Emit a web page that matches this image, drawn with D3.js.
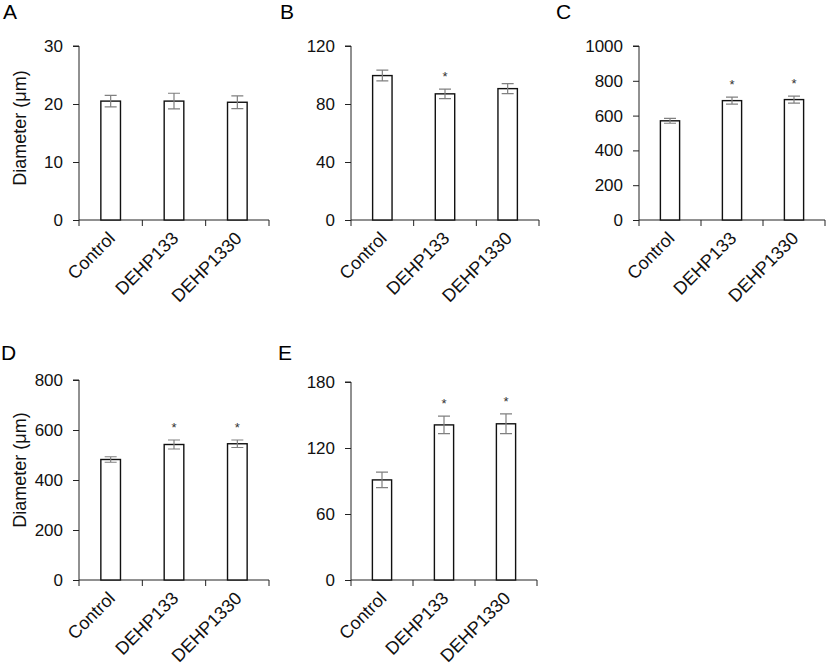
<!DOCTYPE html>
<html><head><meta charset="utf-8">
<script src="https://cdn.jsdelivr.net/npm/d3@7"></script>
<style>body{margin:0;background:#fff}svg{display:block;font-family:Arial,"Liberation Sans",sans-serif}</style>
</head><body><svg id="c" width="827" height="668"></svg>
<script>
const categories = ["Control", "DEHP133", "DEHP1330"];
const panelNames = ["A", "B", "C", "D", "E"];
const meansA = [20.5, 20.5, 20.3], errA = [1.0, 1.35, 1.1], sigA = [0, 0, 0], ticksA = [0, 10, 20, 30];
const meansB = [99.6, 87.0, 90.6], errB = [3.7, 3.3, 3.4], sigB = [0, 1, 0], ticksB = [0, 40, 80, 120];
const meansC = [570, 686, 692], errC = [14, 20, 20], sigC = [0, 1, 1], ticksC = [0, 200, 400, 600, 800, 1000];
const meansD = [482, 542, 545], errD = [11, 18, 15], sigD = [0, 1, 1], ticksD = [0, 200, 400, 600, 800];
const meansE = [91, 141, 142], errE = [7, 8, 9], sigE = [0, 1, 1], ticksE = [0, 60, 120, 180];
const yTitle = "Diameter (\u03bcm)";

const panels = [
  {name: "A", means: meansA, err: errA, sig: sigA, ticks: ticksA, l: 79, r: 269, t: 46, b: 220, lx: 3, ly: 19, title: 128},
  {name: "B", means: meansB, err: errB, sig: sigB, ticks: ticksB, l: 351, r: 539, t: 46, b: 220, lx: 280, ly: 19},
  {name: "C", means: meansC, err: errC, sig: sigC, ticks: ticksC, l: 639, r: 825, t: 46, b: 220, lx: 556, ly: 19},
  {name: "D", means: meansD, err: errD, sig: sigD, ticks: ticksD, l: 79, r: 269, t: 380, b: 580, lx: 1, ly: 360, title: 470},
  {name: "E", means: meansE, err: errE, sig: sigE, ticks: ticksE, l: 351, r: 537, t: 382, b: 580, lx: 278, ly: 360}
];

const svg = d3.select("#c");
panels.forEach(p => {
  const g = svg.append("g");
  const x = d3.scaleBand().domain(categories).range([p.l, p.r]).paddingInner(0).paddingOuter(0);
  const ymax = p.ticks[p.ticks.length - 1];
  const y = d3.scaleLinear().domain([0, ymax]).range([p.b, p.t]);

  g.append("text").attr("x", p.lx).attr("y", p.ly).attr("font-size", 21).attr("fill", "#000").text(p.name);

  // y axis
  const ya = g.append("g").attr("transform", `translate(${p.l},0)`)
    .call(d3.axisLeft(y).tickValues(p.ticks).tickSize(6).tickPadding(10).tickFormat(d3.format("d")));
  ya.select(".domain").attr("stroke", "#222").attr("d", `M-6,${p.t}H0V${p.b}`);
  ya.selectAll(".tick line").attr("stroke", "#222");
  ya.selectAll(".tick text").attr("font-size", 17).attr("fill", "#111").attr("font-family", "Arial, 'Liberation Sans', sans-serif");

  // x axis with boundary ticks
  g.append("line").attr("x1", p.l).attr("x2", p.r).attr("y1", p.b).attr("y2", p.b).attr("stroke", "#222");
  const bounds = categories.map(c => x(c)).concat([x(categories[categories.length - 1]) + x.bandwidth()]);
  g.selectAll(".xt").data(bounds).join("line")
    .attr("x1", d => d).attr("x2", d => d).attr("y1", p.b).attr("y2", p.b + 6).attr("stroke", "#222");

  const bw = x.bandwidth() * 0.31;
  const cx = c => x(c) + x.bandwidth() / 2;

  g.selectAll(".bar").data(categories).join("rect")
    .attr("x", c => cx(c) - bw / 2).attr("width", bw)
    .attr("y", (c, i) => y(p.means[i])).attr("height", (c, i) => p.b - y(p.means[i]))
    .attr("fill", "#fff").attr("stroke", "#111").attr("stroke-width", 1.4);

  const cap = 6;
  categories.forEach((c, i) => {
    const hi = y(p.means[i] + p.err[i]), lo = y(p.means[i] - p.err[i]);
    g.append("path").attr("d", `M${cx(c)},${hi}V${lo}M${cx(c) - cap},${hi}H${cx(c) + cap}M${cx(c) - cap},${lo}H${cx(c) + cap}`)
      .attr("stroke", "#808080").attr("stroke-width", 1.2).attr("fill", "none");
    if (p.sig[i]) {
      g.append("text").attr("x", cx(c)).attr("y", hi - 8).attr("text-anchor", "middle")
        .attr("font-size", 13).attr("fill", "#333").text("*");
    }
  });

  g.selectAll(".xl").data(categories).join("text")
    .attr("transform", c => `translate(${cx(c) + 1},${p.b + 15}) rotate(-45)`)
    .attr("text-anchor", "end").attr("dy", "0.35em").attr("font-size", 18).attr("fill", "#111").text(c => c);

  if (p.title) {
    g.append("text").attr("transform", `translate(26,${p.title}) rotate(-90)`)
      .attr("text-anchor", "middle").attr("font-size", 18).attr("fill", "#111").text(yTitle);
  }
});
</script></body></html>
